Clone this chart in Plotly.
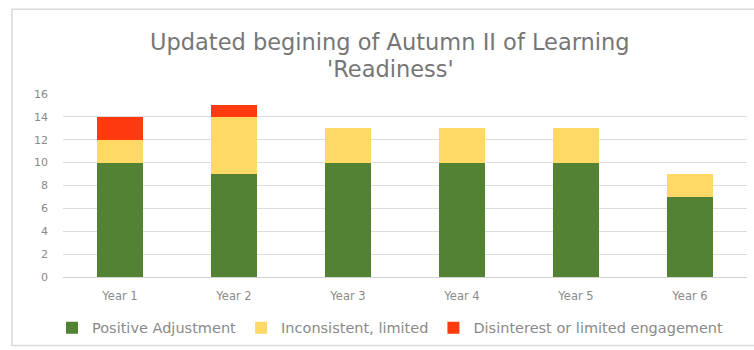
import plotly.graph_objects as go

categories = ["Year 1", "Year 2", "Year 3", "Year 4", "Year 5", "Year 6"]
positive = [10, 9, 10, 10, 10, 7]
inconsistent = [2, 5, 3, 3, 3, 2]
disinterest = [2, 1, 0, 0, 0, 0]

series_names = ["Positive Adjustment", "Inconsistent, limited", "Disinterest or limited engagement"]
colors = ["#548235", "#FFD966", "#FF3A0F"]
y_ticks = [0, 2, 4, 6, 8, 10, 12, 14, 16]
title_lines = ["Updated begining of Autumn II of Learning", "'Readiness'"]

FONT = "DejaVu Sans"

fig = go.Figure()
for name, vals, col in zip(series_names, [positive, inconsistent, disinterest], colors):
    fig.add_trace(go.Bar(x=categories, y=vals, name=name, marker=dict(color=col, line=dict(width=0))))

L, R, T, B = 63, 7, 93.5, 72
W, H = 754, 350
pw, ph = W - L - R, H - T - B

def px_x(p):
    return (p - L) / pw

def px_y(p):
    return (H - B - p) / ph

annotations = []
for line, yc in zip(title_lines, [41, 68]):
    annotations.append(dict(text=line, xref="paper", yref="paper", x=px_x(390), y=px_y(yc),
                            xanchor="center", yanchor="middle", showarrow=False,
                            font=dict(size=22.5, color="#767676", family=FONT)))

fig.update_layout(
    width=W, height=H,
    margin=dict(l=L, r=R, t=T, b=B),
    barmode="stack", bargap=0.6,
    paper_bgcolor="white", plot_bgcolor="white",
    font=dict(family=FONT, color="#8a8a8a", size=11),
    showlegend=True,
    legend=dict(orientation="h", x=px_x(52), xanchor="left", y=px_y(328), yanchor="middle",
                font=dict(size=14.5, color="#8a8a8a", family=FONT), traceorder="normal",
                itemwidth=30, bgcolor="rgba(0,0,0,0)"),
    xaxis=dict(showline=False, ticks="", ticklabelstandoff=10,
               tickfont=dict(size=11.5, color="#8a8a8a", family=FONT)),
    yaxis=dict(range=[0, 16], tickvals=y_ticks, showgrid=True, gridcolor="#dcdcdc", gridwidth=1,
               zeroline=True, zerolinecolor="#d0d0d0", zerolinewidth=1,
               showline=False, ticks="", ticklabelstandoff=14,
               tickfont=dict(size=11, color="#8a8a8a", family=FONT)),
    annotations=annotations,
    shapes=[dict(type="rect", xref="paper", yref="paper",
                 x0=px_x(12), x1=px_x(770), y0=px_y(347), y1=px_y(8),
                 line=dict(color="#d9d9d9", width=1.5), fillcolor="rgba(0,0,0,0)", layer="below")],
)

fig.write_html("out.html")
